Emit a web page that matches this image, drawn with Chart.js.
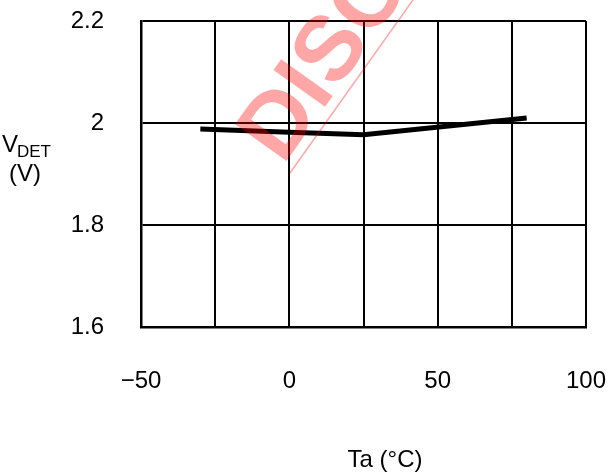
<!DOCTYPE html>
<html>
<head>
<meta charset="utf-8">
<script src="https://cdn.jsdelivr.net/npm/chart.js@4/dist/chart.umd.min.js"></script>
<style>
    html, body { margin: 0; padding: 0; background: #fff; }
    #wrap { width: 610px; height: 474px; }
</style>
</head>
<body>
<div id="wrap"><canvas id="vdet-chart" width="610" height="474"></canvas></div>
<script>
const temps = [-30, 0, 25, 80];
const vdet = [1.988, 1.982, 1.977, 2.010];
const xTickLabels = ['\u221250', '', '0', '', '50', '', '100'];
const yTickLabels = ['1.6', '1.8', '2', '2.2'];
const fontFamily = '"Liberation Sans", Arial, Helvetica, sans-serif';

// axis titles (the y one needs a subscript, so both are drawn by hand)
const axisTitles = {
    id: 'axisTitles',
    afterDraw(chart) {
        const ctx = chart.ctx;
        ctx.save();
        ctx.fillStyle = '#000';
        ctx.textBaseline = 'alphabetic';
        ctx.textAlign = 'left';
        ctx.font = `24px ${fontFamily}`;
        ctx.fillText('V', 2, 152);
        ctx.font = `17px ${fontFamily}`;
        ctx.fillText('DET', 17, 157);
        ctx.textAlign = 'center';
        ctx.font = `24px ${fontFamily}`;
        ctx.fillText('(V)', 25, 181);
        ctx.fillText('Ta (\u00b0C)', 385, 467);
        ctx.restore();
    },
};

const watermark = {
    id: 'watermark',
    afterDraw(chart) {
        const ctx = chart.ctx;
        const text = 'DISCONTINUED';
        ctx.save();
        ctx.translate(283, 166);
        ctx.rotate((-54.6 * Math.PI) / 180);
        ctx.fillStyle = 'rgba(255, 0, 0, 0.35)';
        ctx.font = `bold 92px ${fontFamily}`;
        ctx.textBaseline = 'alphabetic';
        ctx.fillText(text, 0, 0);
        const w = ctx.measureText(text).width;
        ctx.fillRect(-2, 9, w + 4, 1.5);
        ctx.restore();
    },
};

// keep the plot box where the layout padding puts it
function dropLabelPadding(scale) {
    scale.paddingTop = 0;
    scale.paddingBottom = 0;
    scale.paddingLeft = 0;
    scale.paddingRight = 0;
}

function buildChart() {
    const ctx = document.getElementById('vdet-chart').getContext('2d');
    return new Chart(ctx, {
        type: 'line',
        data: {
            datasets: [
                {
                    data: temps.map((t, i) => ({x: t, y: vdet[i]})),
                    borderColor: '#000',
                    borderWidth: 5,
                    pointRadius: 0,
                    tension: 0,
                    fill: false,
                },
            ],
        },
        options: {
            responsive: false,
            animation: false,
            devicePixelRatio: 1,
            layout: {
                padding: {left: 0, right: 24, top: 21, bottom: 0},
            },
            plugins: {
                legend: {display: false},
                tooltip: {enabled: false},
            },
            scales: {
                x: {
                    type: 'linear',
                    min: -50,
                    max: 100,
                    afterFit(scale) {
                        scale.height = 147;
                        dropLabelPadding(scale);
                    },
                    grid: {
                        color: '#000',
                        lineWidth: 2,
                        drawTicks: false,
                    },
                    border: {color: '#000', width: 2.5},
                    ticks: {
                        stepSize: 25,
                        padding: 40,
                        maxRotation: 0,
                        autoSkip: false,
                        color: '#000',
                        font: {family: fontFamily, size: 24},
                        callback(value, index) {
                            return xTickLabels[index];
                        },
                    },
                },
                y: {
                    min: 1.6,
                    max: 2.2,
                    afterFit(scale) {
                        scale.width = 141;
                        dropLabelPadding(scale);
                    },
                    grid: {
                        color: '#000',
                        lineWidth: 2,
                        drawTicks: false,
                    },
                    border: {color: '#000', width: 2.5},
                    ticks: {
                        stepSize: 0.2,
                        padding: 37,
                        color: '#000',
                        font: {family: fontFamily, size: 24},
                        callback(value, index) {
                            return yTickLabels[index];
                        },
                    },
                },
            },
        },
        plugins: [axisTitles, watermark],
    });
}

buildChart();
</script>
</body>
</html>
